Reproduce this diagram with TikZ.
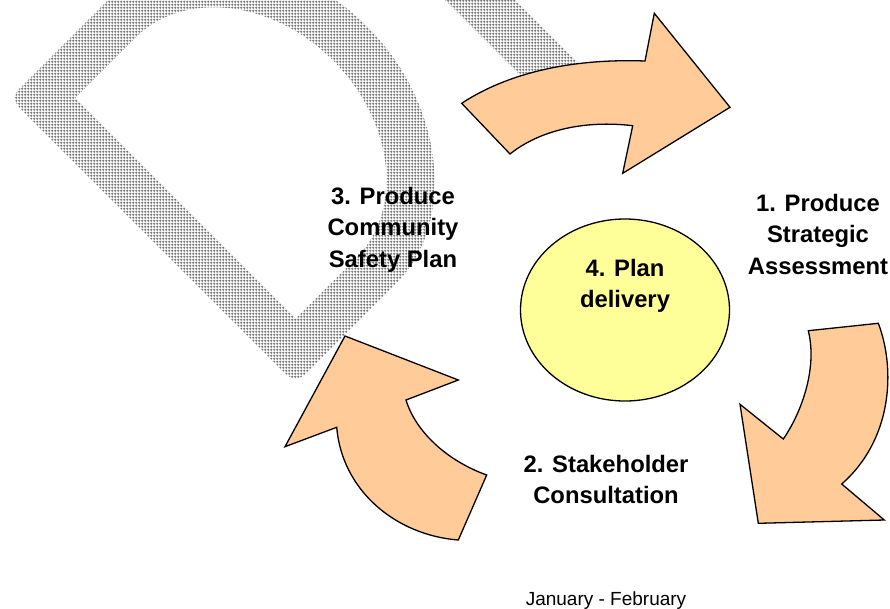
\documentclass[tikz,border=0pt]{standalone}
\usepackage{fontspec}
\setmainfont{Liberation Sans}
\usetikzlibrary{patterns.meta,shapes.geometric}
\definecolor{peach}{HTML}{FFCC99}
\definecolor{paleyellow}{HTML}{FFFF99}
\tikzdeclarepattern{
  name=meshdots,
  type=uncolored,
  bottom left={(0pt,0pt)}, top right={(3pt,3pt)}, tile size={(3pt,3pt)},
  code={\fill (0pt,1pt) rectangle (3pt,2pt); \fill (1pt,0pt) rectangle (2pt,3pt);}
}
\tikzset{
  watermark/.style={pattern=meshdots, pattern color=black!60, even odd rule},
  bentarrow/.style={fill=peach, draw=black, line width=1.3pt, line join=miter},
  steplabel/.style={font=\fontsize{23.8}{31.5}\selectfont\bfseries, align=center, inner sep=0pt},
  datelabel/.style={font=\fontsize{19}{23}\selectfont, inner sep=0pt},
  planell/.style={ellipse, fill=paleyellow, draw=black, line width=1.3pt}
}
\begin{document}
\begin{tikzpicture}[x=1pt, y=-1pt]
\useasboundingbox (0,0) rectangle (890,608);
% background watermark
\begin{scope}
\clip (0,0) rectangle (890,608);
\begin{scope}[shift={(10pt,-98pt)}, x={(0.7071pt,0.7071pt)}, y={(0.7071pt,-0.7071pt)}]
\fill[watermark]
  [rounded corners=12pt] (0,0) -- (131,0) arc[start angle=-90, end angle=90, x radius=172, y radius=202] -- (0,404) -- cycle
  [sharp corners] (46,46) -- (131,46) arc[start angle=-90, end angle=90, x radius=124, y radius=156] -- (46,358) -- cycle;
\end{scope}
\fill[watermark] (425,-20) -- (495,-20) -- (615,100) -- (545,100) -- cycle;
\end{scope}
% top arrow
\filldraw[bentarrow] (461.7,103.3) .. controls (500,78) and (560,58) .. (645,61)
  -- (654.3,13.3) -- (730,107.3) -- (622.7,173.3) -- (632.7,125.7)
  .. controls (585,120) and (540,130) .. (510,154) -- cycle;
% right arrow
\filldraw[bentarrow] (808.3,330.7) -- (878.3,323.3)
  .. controls (896,370) and (892,440) .. (841.7,484)
  -- (884.3,520) -- (758.3,523.3) -- (740,404.3) -- (783.3,439)
  .. controls (800,415) and (818,370) .. cycle;
% left arrow
\filldraw[bentarrow] (458.3,540) -- (486.7,475)
  .. controls (445,460) and (415,430) .. (406,400)
  -- (458.3,380) -- (345,336) -- (285,446.7) -- (336.7,427.3)
  .. controls (342,490) and (395,535) .. cycle;
% centre ellipse
\node[planell, minimum width=209pt, minimum height=182pt] (ell) at (625,310) {};
\node[steplabel] (t4) at (625,285.6) {4. Plan\\delivery};
% labels
\node[steplabel] (t1) at (818,234) {1. Produce\\Strategic\\Assessment};
\node[steplabel] (t3) at (393,229.5) {3. Produce\\Community\\Safety Plan};
\node[steplabel] (t2) at (606,479.5) {2. Stakeholder\\Consultation};
\node[datelabel] (date) at (606,600.8) {January - February};
\end{tikzpicture}
\end{document}
